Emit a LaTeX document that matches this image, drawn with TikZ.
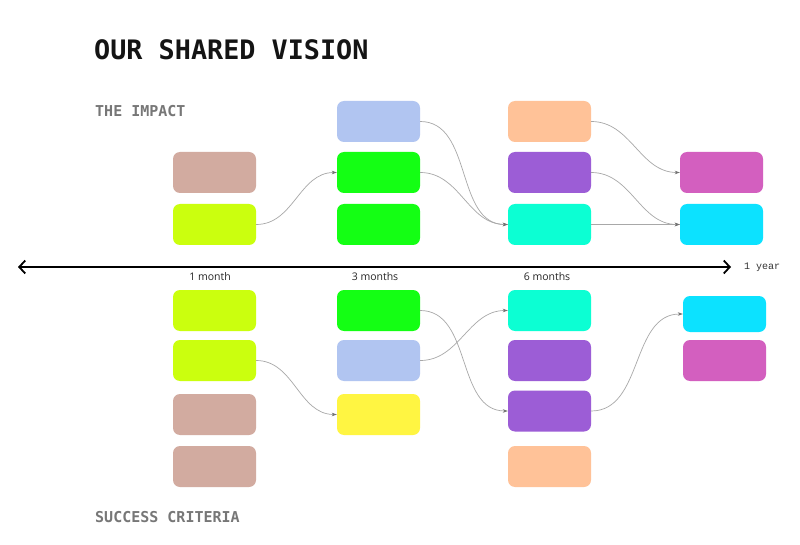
\documentclass[tikz,border=0pt]{standalone}
\usepackage{fontspec}
\setmainfont{Open Sans}
\newfontfamily\headfont{DejaVu Sans Mono}
\newfontfamily\yearfont{Liberation Mono}
\usetikzlibrary{arrows.meta}
\definecolor{ctan}{HTML}{D2ABA0}
\definecolor{clime}{HTML}{CBFF0E}
\definecolor{clav}{HTML}{B1C5F1}
\definecolor{cgreen}{HTML}{14FF14}
\definecolor{cpeach}{HTML}{FFC298}
\definecolor{cpurple}{HTML}{9C5DD6}
\definecolor{caqua}{HTML}{0CFFD3}
\definecolor{cmag}{HTML}{D35FBF}
\definecolor{ccyan}{HTML}{0CE2FF}
\definecolor{cyellow}{HTML}{FFF542}
\definecolor{cgreytext}{HTML}{777777}
\definecolor{cconn}{HTML}{A8A8A8}
\tikzset{
  box/.style={rectangle, rounded corners=7pt, minimum width=83pt, minimum height=41pt, inner sep=0pt, draw=none},
  conn/.style={draw=cconn, line width=0.7pt, -{Stealth[length=5pt,width=3.5pt,fill=gray!90!black,color=gray!90!black]}},
  section/.style={font=\headfont\bfseries\fontsize{15}{18}\selectfont, text=cgreytext, anchor=west, inner sep=0pt},
  month/.style={font=\fontsize{10.5}{12}\selectfont, text=black!85, inner sep=0pt},
}
\begin{document}
\begin{tikzpicture}[x=1pt,y=-1pt]
\useasboundingbox[fill=white] (0,0) rectangle (800,545);
% headings
\node[font=\headfont\bfseries\fontsize{26.8}{30}\selectfont, anchor=west, inner sep=0pt, text=black!92] (title) at (94,50) {OUR SHARED VISION};
\node[section] (impact) at (95,111) {THE IMPACT};
\node[section] (success) at (95,517) {SUCCESS CRITERIA};
% timeline
\coordinate (tl) at (18,267);
\coordinate (tr) at (731,267);
\draw[line width=1.8pt, {Straight Barb[length=6pt,width=13pt]}-{Straight Barb[length=6pt,width=13pt]}] (tl) -- (tr);
\node[month] (m1) at (210,277) {1 month};
\node[month] (m3) at (375,277) {3 months};
\node[month] (m6) at (547,277) {6 months};
\node[font=\yearfont\fontsize{10}{12}\selectfont, text=black!80, inner sep=0pt, anchor=west] (yr) at (744,267) {1 year};
% top boxes
\node[box, fill=ctan] (a2) at (214.5,172.5) {};
\node[box, fill=clime] (a3) at (214.5,224.5) {};
\node[box, fill=clav] (b1) at (378.5,121.5) {};
\node[box, fill=cgreen] (b2) at (378.5,172.5) {};
\node[box, fill=cgreen] (b3) at (378.5,224.5) {};
\node[box, fill=cpeach] (c1) at (549.5,121.5) {};
\node[box, fill=cpurple] (c2) at (549.5,172.5) {};
\node[box, fill=caqua] (c3) at (549.5,224.5) {};
\node[box, fill=cmag] (d2) at (721.5,172.5) {};
\node[box, fill=ccyan] (d3) at (721.5,224.5) {};
% bottom boxes
\node[box, fill=clime] (e1) at (214.5,310.5) {};
\node[box, fill=clime] (e2) at (214.5,360.5) {};
\node[box, fill=ctan] (e3) at (214.5,414.5) {};
\node[box, fill=ctan] (e4) at (214.5,466.5) {};
\node[box, fill=cgreen] (f1) at (378.5,310.5) {};
\node[box, fill=clav] (f2) at (378.5,360.5) {};
\node[box, fill=cyellow] (f3) at (378.5,414.5) {};
\node[box, fill=caqua] (g1) at (549.5,310.5) {};
\node[box, fill=cpurple] (g2) at (549.5,360.5) {};
\node[box, fill=cpurple] (g3) at (549.5,411) {};
\node[box, fill=cpeach] (g4) at (549.5,466.5) {};
\node[box, fill=ccyan, minimum height=36pt] (h1) at (724.5,314) {};
\node[box, fill=cmag] (h2) at (724.5,360.5) {};
% top connectors
\draw[conn] (a3.east) to[out=0,in=180] (b2.west);
\draw[conn] (b1.east) to[out=0,in=180] (c3.west);
\draw[conn] (b2.east) to[out=0,in=180] (c3.west);
\draw[conn] (c1.east) to[out=0,in=180] (d2.west);
\draw[conn] (c2.east) to[out=0,in=180] (d3.west);
\draw[conn] (c3.east) -- (d3.west);
% bottom connectors
\draw[conn] (e2.east) to[out=0,in=180] (f3.west);
\draw[conn] (f1.east) to[out=0,in=180] (g3.west);
\draw[conn] (f2.east) to[out=0,in=180] (g1.west);
\draw[conn] (g3.east) to[out=0,in=180] (h1.west);
\end{tikzpicture}
\end{document}
